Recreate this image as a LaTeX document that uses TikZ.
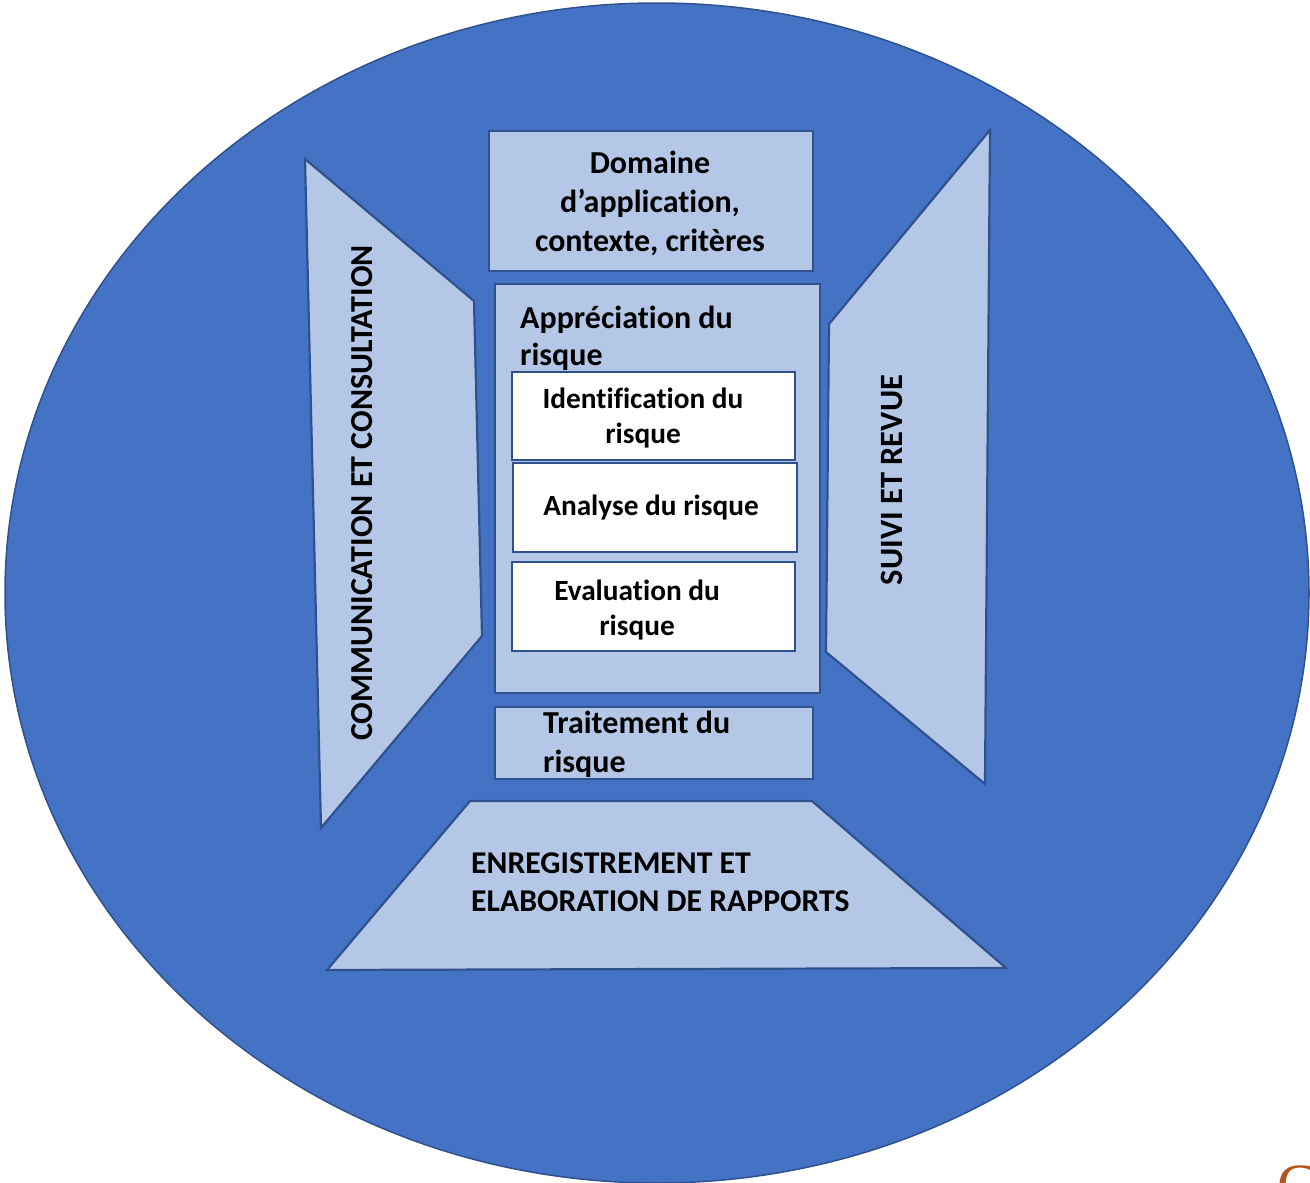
\documentclass[tikz,border=0pt]{standalone}
\usepackage{fontspec}
\setmainfont[Ligatures=NoCommon]{Carlito}
\definecolor{cblue}{HTML}{4472C4}
\definecolor{cdark}{HTML}{2F528F}
\definecolor{clight}{HTML}{B4C7E7}
\definecolor{corange}{HTML}{B5541C}
\tikzset{
  lightshape/.style={fill=clight, draw=cdark, line width=2.2pt, line join=miter},
  whitebox/.style={fill=white, draw=cdark, line width=2.2pt},
  lbl/.style={font=\bfseries, text=black, inner sep=0pt},
}
\begin{document}
\begin{tikzpicture}[x=1pt,y=-1pt]
\useasboundingbox (0,0) rectangle (1310,1183);
% big circle
\draw[fill=cblue, draw=cdark, line width=1.5pt] (657,593) ellipse [x radius=652, y radius=590];
% left trapezoid
\draw[lightshape] (305,159) -- (474,301) -- (482,636) -- (321,828) -- cycle;
% right trapezoid
\draw[lightshape] (990,130) -- (985,784) -- (826,652) -- (829,324) -- cycle;
% bottom trapezoid
\draw[lightshape] (470,801) -- (812,801) -- (1006,968) -- (327,970) -- cycle;
% boxes
\node[lightshape, minimum width=324pt, minimum height=140pt, anchor=north west] (dom) at (488,130) {};
\node[lightshape, minimum width=325pt, minimum height=409pt, anchor=north west] (app) at (494,283) {};
\node[whitebox, minimum width=283pt, minimum height=88pt, anchor=north west] (ident) at (511,371) {};
\node[whitebox, minimum width=284pt, minimum height=89pt, anchor=north west] (anal) at (512,462) {};
\node[whitebox, minimum width=283pt, minimum height=89pt, anchor=north west] (eval) at (511,561) {};
\node[lightshape, minimum width=318pt, minimum height=72pt, anchor=north west] (trait) at (494,706) {};
% texts
\node[lbl, align=center, font=\bfseries\fontsize{32}{39}\selectfont] (tdom) at (650,203) {Domaine\\d’application,\\contexte, critères};
\node[lbl, align=left, anchor=west, font=\bfseries\fontsize{32}{37}\selectfont] (tapp) at (520,338) {Appréciation du\\risque};
\node[lbl, align=center, font=\bfseries\fontsize{29.3}{35}\selectfont] (tident) at (643,418) {Identification du\\risque};
\node[lbl, align=center, font=\bfseries\fontsize{29.3}{35}\selectfont] (tanal) at (651,508) {Analyse du risque};
\node[lbl, align=center, font=\bfseries\fontsize{29.3}{35}\selectfont] (teval) at (637,610) {Evaluation du\\risque};
\node[lbl, align=left, anchor=west, font=\bfseries\fontsize{32}{39}\selectfont] (ttrait) at (543,744) {Traitement du\\risque};
\node[lbl, align=left, anchor=west, font=\bfseries\fontsize{31.7}{38}\selectfont] (tenr) at (471,882) {ENREGISTREMENT ET\\ELABORATION DE RAPPORTS};
\node[lbl, rotate=90, font=\bfseries\fontsize{32}{35}\selectfont] (tcom) at (362,493) {COMMUNICATION ET CONSULTATION};
\node[lbl, rotate=90, font=\bfseries\fontsize{32.5}{35}\selectfont] (tsuivi) at (892,480) {SUIVI ET REVUE};
% corner fragment
\node[inner sep=0pt, anchor=north west, text=corange, font=\fontspec{Liberation Serif}\fontsize{60}{60}\selectfont] (frag) at (1277,1166) {C};
\end{tikzpicture}
\end{document}
